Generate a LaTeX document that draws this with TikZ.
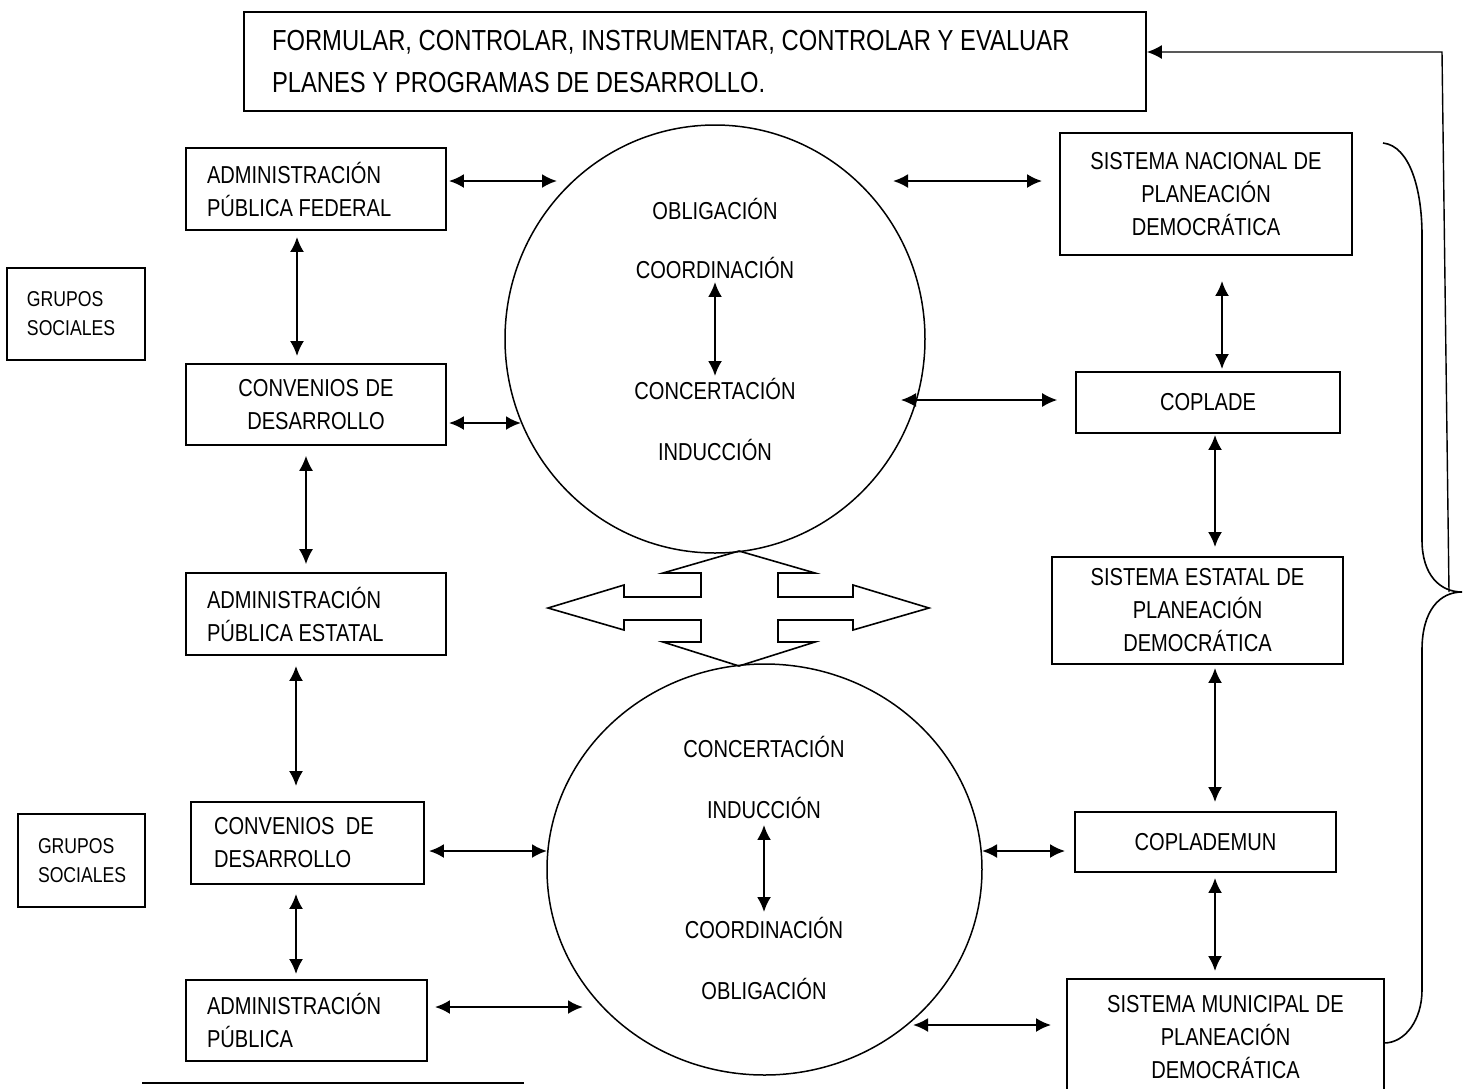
\documentclass[tikz,border=0pt]{standalone}
\usepackage{fontspec}
\setmainfont{Liberation Sans}[FakeStretch=0.82]
\usetikzlibrary{arrows.meta,shapes.geometric}
\newcommand\cajafont{\fontsize{24.5pt}{33pt}\selectfont}
\newcommand\titulofont{\fontsize{29pt}{42pt}\selectfont}
\newcommand\grupofont{\fontsize{21.5pt}{29pt}\selectfont}
\tikzset{
  espacio/.style={execute at begin node={\spaceskip=.23em plus .05em\relax}},
  caja/.style={draw, line width=1.8pt, inner sep=0pt, font=\cajafont, espacio},
  cajaizq/.style={caja, align=left, inner xsep=21pt},
  cajacen/.style={caja, align=center},
  grupo/.style={draw, line width=1.8pt, inner sep=0pt, inner xsep=20pt, align=left, font=\grupofont, espacio},
  circulo/.style={draw, ellipse, line width=1.5pt, inner sep=0pt},
  texto/.style={inner sep=0pt, font=\cajafont},
  flecha/.style={<->, line width=2.3pt},
  flechafina/.style={<->, line width=1.4pt},
}
\begin{document}
\begin{tikzpicture}[x=1pt, y=-1pt, >={Latex[length=15pt,width=14pt]}]
    \useasboundingbox (0,0) rectangle (1468,1088);
    % titulo
    \node[caja, align=left, inner xsep=28pt, font=\titulofont, minimum width=902pt, minimum height=99pt, text width=846pt] (titulo) at (695,61.5)
        {FORMULAR, CONTROLAR, INSTRUMENTAR, CONTROLAR Y EVALUAR\\PLANES Y PROGRAMAS DE DESARROLLO.};
    % columna izquierda
    \node[cajaizq, minimum width=260pt, minimum height=82pt, text width=218pt] (apf) at (316,189) {ADMINISTRACIÓN\\PÚBLICA FEDERAL};
    \node[grupo, minimum width=138pt, minimum height=92pt, text width=98pt] (gs1) at (76,314) {GRUPOS\\SOCIALES};
    \node[cajacen, minimum width=260pt, minimum height=81pt, text width=240pt] (conv1) at (316,404.5) {CONVENIOS DE\\DESARROLLO};
    \node[cajaizq, minimum width=260pt, minimum height=82pt, text width=218pt] (ape) at (316,614) {ADMINISTRACIÓN\\PÚBLICA ESTATAL};
    \node[cajaizq, inner xsep=23pt, minimum width=233pt, minimum height=82pt, text width=187pt] (conv2) at (307.5,843) {CONVENIOS~ DE\\DESARROLLO};
    \node[grupo, minimum width=127pt, minimum height=93pt, text width=87pt] (gs2) at (81.5,860.5) {GRUPOS\\SOCIALES};
    \node[cajaizq, minimum width=241pt, minimum height=81pt, text width=199pt] (ap) at (306.5,1020.5) {ADMINISTRACIÓN\\PÚBLICA};
    % columna derecha
    \node[cajacen, minimum width=292pt, minimum height=122pt, text width=272pt] (snpd) at (1206,194) {SISTEMA NACIONAL DE\\PLANEACIÓN\\DEMOCRÁTICA};
    \node[cajacen, minimum width=264pt, minimum height=61pt, text width=244pt] (coplade) at (1208,402.5) {COPLADE};
    \node[cajacen, minimum width=291pt, minimum height=107pt, text width=271pt] (sepd) at (1197.5,610.5) {SISTEMA ESTATAL DE\\PLANEACIÓN\\DEMOCRÁTICA};
    \node[cajacen, minimum width=261pt, minimum height=60pt, text width=241pt] (coplademun) at (1205.5,842) {COPLADEMUN};
    \node[cajacen, minimum width=317pt, minimum height=116pt, text width=297pt] (smpd) at (1225.5,1037) {SISTEMA MUNICIPAL DE\\PLANEACIÓN\\DEMOCRÁTICA};
    % circulos
    \node[circulo, minimum width=420pt, minimum height=428pt] (c1) at (715,339) {};
    \node[circulo, minimum width=435pt, minimum height=411pt] (c2) at (764.5,869.5) {};
    \node[texto] (t1a) at (715,209) {OBLIGACIÓN};
    \node[texto] (t1b) at (715,268) {COORDINACIÓN};
    \node[texto] (t1c) at (715,389) {CONCERTACIÓN};
    \node[texto] (t1d) at (715,450) {INDUCCIÓN};
    \node[texto] (t2a) at (764,747) {CONCERTACIÓN};
    \node[texto] (t2b) at (764,808) {INDUCCIÓN};
    \node[texto] (t2c) at (764,928) {COORDINACIÓN};
    \node[texto] (t2d) at (764,989) {OBLIGACIÓN};
    % flecha cuadruple
    \draw[line width=1.6pt, line join=miter] (739,551) -- (815,573) -- (778,573) -- (778,597) -- (853,597) -- (853,585)
        -- (929,608) -- (853,630) -- (853,620) -- (778,620) -- (778,642) -- (815,642) -- (739,666)
        -- (663,642) -- (701,642) -- (701,620) -- (624,620) -- (624,630) -- (548,608) -- (624,585)
        -- (624,597) -- (701,597) -- (701,573) -- (663,573) -- cycle;
    % extremos libres junto a los circulos
    \coordinate (c1a) at (557,181);
    \coordinate (c1b) at (893,181);
    \coordinate (c1c) at (521,423);
    \coordinate (c1d) at (901,400);
    \coordinate (c2a) at (547,851);
    \coordinate (c2b) at (982,851);
    \coordinate (c2c) at (583,1007);
    \coordinate (c2d) at (913,1025);
    \draw[flecha, shorten <=2pt] (apf.east |- c1a) -- (c1a);
    \draw[flecha, shorten >=17pt] (c1b) -- (snpd.west |- c1b);
    \draw[flecha, shorten <=2pt] (conv1.east |- c1c) -- (c1c);
    \draw[flechafina, shorten >=18pt] (c1d) -- (coplade.west |- c1d);
    \draw[flecha, shorten <=4pt] (conv2.east |- c2a) -- (c2a);
    \draw[flecha, shorten >=9pt] (c2b) -- (coplademun.west |- c2b);
    \draw[flecha, shorten <=7pt] (ap.east |- c2c) -- (c2c);
    \draw[flecha, shorten >=15pt] (c2d) -- (smpd.west |- c2d);
    % verticales
    \draw[flecha, shorten <=6pt, shorten >=7pt] (apf.south -| 297,0) -- (conv1.north -| 297,0);
    \draw[flechafina, shorten <=10pt, shorten >=8pt] (conv1.south -| 306,0) -- (ape.north -| 306,0);
    \draw[flecha, shorten <=10pt, shorten >=15pt] (ape.south -| 296,0) -- (conv2.north -| 296,0);
    \draw[flecha, shorten <=9pt, shorten >=5pt] (conv2.south -| 296,0) -- (ap.north -| 296,0);
    \draw[flecha, shorten <=25pt, shorten >=2pt] (snpd.south -| 1222,0) -- (coplade.north -| 1222,0);
    \draw[flecha, shorten <=1pt, shorten >=9pt] (coplade.south -| 1215,0) -- (sepd.north -| 1215,0);
    \draw[flecha, shorten <=3pt, shorten >=9pt] (sepd.south -| 1215,0) -- (coplademun.north -| 1215,0);
    \draw[flecha, shorten <=5pt, shorten >=7pt] (coplademun.south -| 1215,0) -- (smpd.north -| 1215,0);
    \draw[flecha, shorten <=3pt, shorten >=2pt] (t1b.south) -- (t1c.north);
    \draw[flecha, shorten <=6pt, shorten >=5pt] (t2b.south) -- (t2c.north);
    % llave y retorno al titulo
    \draw[line width=1.6pt] (1383,143) .. controls (1410,146) and (1422,190) .. (1422,235) -- (1422,540)
        .. controls (1422,575) and (1440,592) .. (1462,592)
        .. controls (1440,592) and (1422,610) .. (1422,650) -- (1422,990)
        .. controls (1422,1020) and (1405,1043) .. (1384,1043);
    \coordinate (pico) at (1449,592);
    \coordinate (esq) at (1442,52);
    \draw[->, line width=1.4pt] (pico) -- (esq) -- (titulo.east |- esq);
    % linea de nota
    \draw[line width=2pt] (142,1083) -- (524,1083);
\end{tikzpicture}
\end{document}
